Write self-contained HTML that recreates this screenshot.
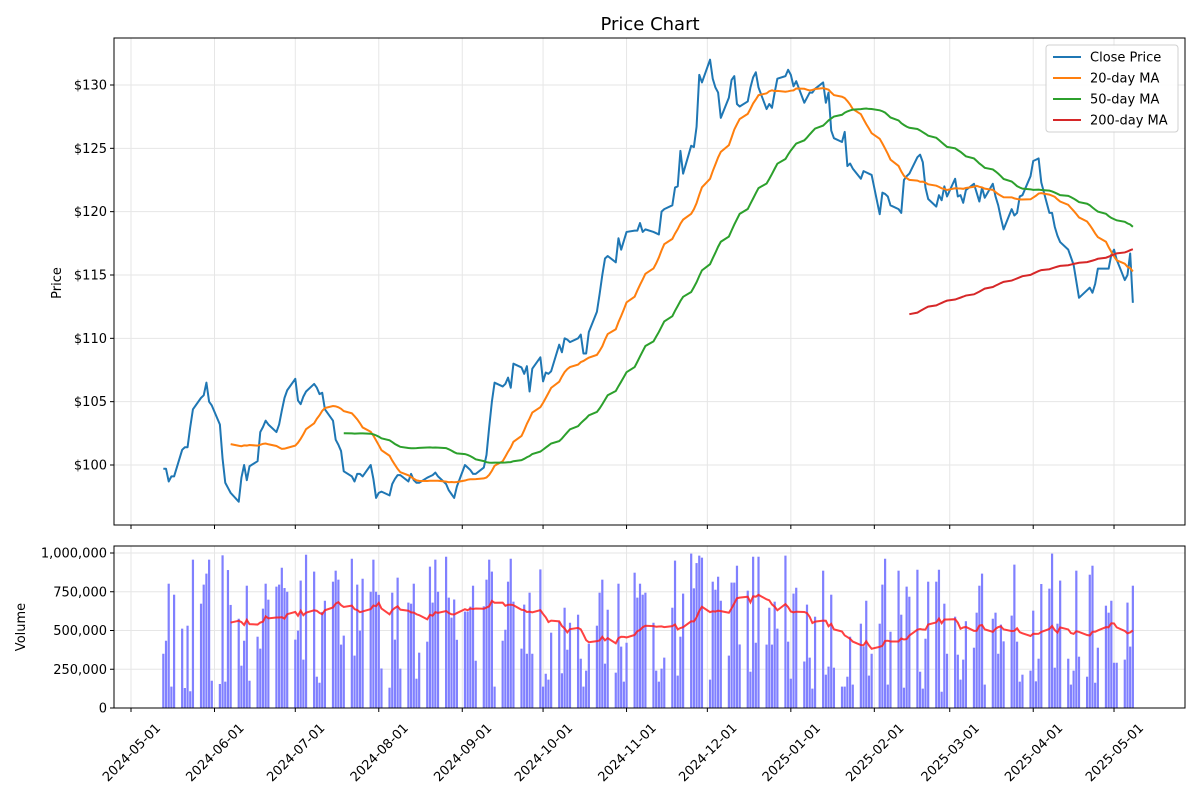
<!DOCTYPE html>
<html><head><meta charset="utf-8"><style>
body{margin:0;background:#fff;}
svg{display:block;font-family:"DejaVu Sans","Liberation Sans",sans-serif;}
</style></head><body>
<svg id="chart" width="1200" height="800" viewBox="0 0 1200 800" xmlns="http://www.w3.org/2000/svg">
<rect x="0" y="0" width="1200" height="800" fill="#fff"/>
<text x="650" y="30" font-size="18" text-anchor="middle" fill="#000">Price Chart</text>
<g id="priceGrid"></g>
<g id="volGrid"></g>
<g id="volBars"></g>
<g id="series"></g>
<g id="axes"></g>
<text x="61" y="283" font-size="13" text-anchor="middle" transform="rotate(-90 61 283)">Price</text>
<text x="25" y="627" font-size="13" text-anchor="middle" transform="rotate(-90 25 627)">Volume</text>
<g>
<rect x="1046" y="45" width="132" height="87" rx="3" fill="#fff" fill-opacity="0.85" stroke="#d0d0d0"/>
<line x1="1053" y1="57" x2="1081" y2="57" stroke="#1f77b4" stroke-width="2"/><text x="1090" y="61.5" font-size="13">Close Price</text>
<line x1="1053" y1="78" x2="1081" y2="78" stroke="#ff7f0e" stroke-width="2"/><text x="1090" y="82.5" font-size="13">20-day MA</text>
<line x1="1053" y1="99" x2="1081" y2="99" stroke="#2ca02c" stroke-width="2"/><text x="1090" y="103.5" font-size="13">50-day MA</text>
<line x1="1053" y1="120" x2="1081" y2="120" stroke="#d62728" stroke-width="2"/><text x="1090" y="124.5" font-size="13">200-day MA</text>
</g>
</svg>
<script>
const closePrices = [
99.7,99.7,98.7,99.1,99.1, 101.2,101.4,101.4,103,104.4, 105.3,105.5,106.5,105,104.7, 103.2,100.5,98.6,98.2,97.8,
97.1,99,100,98.8,99.9, 100.3,102.6,103,103.5,103.2, 102.6,103.2,104.3,105.3,105.9, 106.8,105.1,104.8,105.4,105.8,
106.4,106.1,105.6,105.7,104.4, 103.5,102,101.6,101.1,99.5, 99.1,98.7,99.3,99.3,99.1, 100,98.9,97.4,97.8,97.9,
97.6,98.5,98.9,99.2,99.2, 98.7,99.3,98.8,98.6,98.6, 99,99.1,99.2,99.4,99.1, 98.5,98,97.7,97.4,98.3,
100,99.8,99.6,99.3,99.3, 99.8,100.8,103,105,106.5, 106.2,106.4,106.9,106.1,108, 107.7,107.2,107.8,105.8,107.6,
108.5,106.6,107.3,107.2,107.4, 109.5,108.9,110,109.9,109.7, 110,110.3,108.8,108.8,110.5, 112.1,113.5,115,116.3,116.5,
116,117.9,117,117.7,118.4, 118.5,118.5,119.1,118.4,118.6, 118.4,118.3,118.2,120,120.2, 120.5,121.9,122,124.8,123,
125.2,125.1,126.7,130.8,130.2, 132,130.5,129.8,129.4,127.4, 129,130.4,130.7,128.5,128.3, 128.7,129.8,130.6,131,129.8,
128.1,128.5,128.2,129.4,130.5, 130.7,131.2,130.8,129.9,130.3, 128.6,129,129.4,129.4,129.7, 130.2,128.6,129.4,126.4,125.8,
125.5,126.3,123.6,123.8,123.4, 122.6,123.2,123.1,123,122.9, 119.8,121.5,121.4,121.2,120.5, 120.2,119.9,122.5,122.8,123,
124.3,124.5,123.9,121.9,121, 120.4,121.3,120.9,122,121.2, 122.6,121.2,121.3,120.7,121.7, 122.2,121.5,120.8,121.9,121.1,
122.2,121.2,120.5,119.5,118.6, 120.2,119.7,119.9,121.2,121.3, 122.8,124,124.1,124.2,122.3, 119.9,119.9,118.8,118.1,117.6,
117,116.4,115.8,114.5,113.2, 113.8,114,113.6,114.3,115.5, 115.5,115.5,116.6,117,116.2, 114.6,115,116.7,112.8
];
const volumesK = [
350,434,802,138,731, 512,129,531,108,957, 673,796,867,957,176, 155,985,170,890,665,
576,273,434,789,176, 460,383,641,802,699, 783,796,905,774,750, 441,499,822,312,989,
880,202,163,620,692, 815,886,828,409,467, 963,338,796,499,834, 750,957,750,730,255,
131,744,441,841,254, 680,673,802,189,357, 428,912,680,957,750, 976,712,583,700,440,
622,622,654,789,305, 656,828,957,880,138, 434,505,815,963,686, 383,667,350,744,350,
894,138,221,183,486, 557,224,647,376,550, 602,318,138,241,415, 531,744,828,286,634,
228,802,396,170,421, 873,712,802,731,744, 550,241,170,254,325, 647,951,209,460,738,
996,772,935,983,970, 183,815,763,847,692, 338,809,809,918,410, 757,234,976,421,976,
409,647,409,686,512, 983,428,189,738,776, 300,667,325,125,589, 886,215,267,731,260,
138,138,202,460,151, 544,398,692,209,350, 544,796,963,151,492, 886,602,131,783,718,
892,234,125,447,815, 815,892,105,673,350, 589,344,183,312,560, 389,615,789,867,151,
576,615,350,538,430, 596,925,428,170,215, 241,628,172,318,800, 770,996,260,544,822,
318,151,241,886,331, 202,860,918,163,389, 660,615,692,292,292, 312,680,396,789
];
const xTickLabels = ["2024-05-01","2024-06-01","2024-07-01","2024-08-01","2024-09-01","2024-10-01","2024-11-01","2024-12-01","2025-01-01","2025-02-01","2025-03-01","2025-04-01","2025-05-01"];
const priceTicks = [100,105,110,115,120,125,130];
const volTicks = [0,250000,500000,750000,1000000];
const maWindows = [20,50,200];

const NS="http://www.w3.org/2000/svg";
const PL=114,PR=1185,PT=38,PB=525,VT=546,VB=708;
const t0=Date.UTC(2024,4,1);
function xScale(ms){return 131+(ms-t0)/86400000*2.6932;}
function yPrice(p){return 465-(p-100)*12.667;}
function yVol(v){return VB-v/1000000*155;}
function mk(tag,attrs,parent){const e=document.createElementNS(NS,tag);for(const k in attrs)e.setAttribute(k,attrs[k]);parent.appendChild(e);return e;}

// business dates starting 2024-05-13
const dates=[];
{let d=Date.UTC(2024,4,13);while(dates.length<closePrices.length){const wd=new Date(d).getUTCDay();if(wd!==0&&wd!==6)dates.push(d);d+=86400000;}}
function rolling(arr,w){return arr.map((v,i)=>{if(i<w-1)return null;let s=0;for(let j=i-w+1;j<=i;j++)s+=arr[j];return s/w;});}

const pg=document.getElementById('priceGrid'),vg=document.getElementById('volGrid'),ax=document.getElementById('axes');
const tickMs=xTickLabels.map(s=>{const p=s.split('-');return Date.UTC(+p[0],+p[1]-1,+p[2]);});
tickMs.forEach((ms,i)=>{
  const x=xScale(ms);
  const g1=mk('line',{x1:x,x2:x,y1:PT,y2:PB,stroke:'#e6e6e6','stroke-width':1},pg);
  
  
  const g2=mk('line',{x1:x,x2:x,y1:VT,y2:VB,stroke:'#e6e6e6','stroke-width':1},vg);
  
  
  mk('line',{x1:x,x2:x,y1:PB,y2:PB+4,stroke:'#000'},ax);
  mk('line',{x1:x,x2:x,y1:VB,y2:VB+4,stroke:'#000'},ax);
  const t=mk('text',{x:x,y:757,'font-size':13,'text-anchor':'middle',transform:`rotate(-45 ${x} 752)`},ax);
  
  
  t.textContent=xTickLabels[i];
});
priceTicks.forEach(p=>{
  const y=yPrice(p);
  const g=mk('line',{x1:PL,x2:PR,y1:y,y2:y,stroke:'#e6e6e6'},pg);
  
  
  mk('line',{x1:PL-4,x2:PL,y1:y,y2:y,stroke:'#000'},ax);
  const t=mk('text',{x:PL-7,y:y+4.5,'font-size':13,'text-anchor':'end'},ax);
  
  
  t.textContent='$'+p;
});
volTicks.forEach(v=>{
  const y=yVol(v);
  const g=mk('line',{x1:PL,x2:PR,y1:y,y2:y,stroke:'#e6e6e6'},vg);
  
  
  mk('line',{x1:PL-4,x2:PL,y1:y,y2:y,stroke:'#000'},ax);
  const t=mk('text',{x:PL-7,y:y+4.5,'font-size':13,'text-anchor':'end'},ax);
  
  
  t.textContent=v.toLocaleString('en-US');
});
mk('rect',{x:PL,y:PT,width:PR-PL,height:PB-PT,fill:'none',stroke:'#000','stroke-width':1},ax);
mk('rect',{x:PL,y:VT,width:PR-PL,height:VB-VT,fill:'none',stroke:'#000','stroke-width':1},ax);

// volume bars
const vb=document.getElementById('volBars');
const vols=volumesK.map(v=>v*1000);
vols.forEach((v,i)=>{
  const x=xScale(dates[i]);
  const r=mk('rect',{x:x-1.1,y:yVol(v),width:2.2,height:VB-yVol(v),fill:'#8080ff'},vb);
  
  
});
function pathFrom(vals,yf){let d='';vals.forEach((v,i)=>{if(v===null)return;d+=(d?'L':'M')+xScale(dates[i]).toFixed(2)+','+yf(v).toFixed(2);});return d;}
const vma=rolling(vols,20);
const vl=mk('path',{d:pathFrom(vma,yVol),fill:'none',stroke:'#ff2020','stroke-opacity':0.85,'stroke-width':2},vb);



// price series
const sg=document.getElementById('series');
const cl=mk('path',{d:pathFrom(closePrices,yPrice),fill:'none',stroke:'#1f77b4','stroke-width':2,'stroke-linejoin':'round'},sg);


const maColors=['#ff7f0e','#2ca02c','#d62728'];
const maNames=['ma20-line','ma50-line','ma200-line'];
maWindows.forEach((w,k)=>{
  const l=mk('path',{d:pathFrom(rolling(closePrices,w),yPrice),fill:'none',stroke:maColors[k],'stroke-width':2},sg);
  
  
});
</script>
</body></html>
